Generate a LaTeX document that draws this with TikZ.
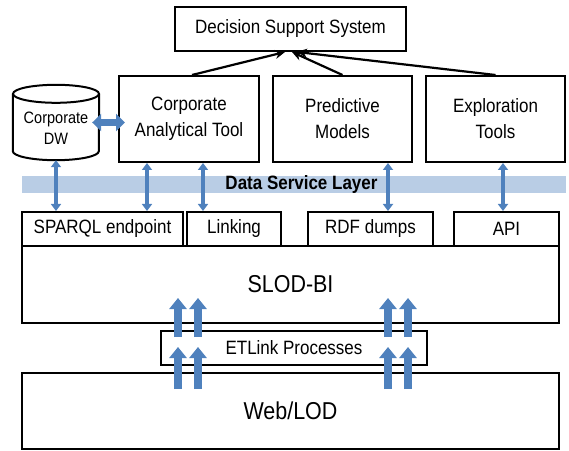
\documentclass[tikz,border=0pt]{standalone}
\usepackage{fontspec}
\setmainfont{Liberation Sans}[FakeStretch=0.88]
\usetikzlibrary{arrows.meta,calc}
\definecolor{arrblue}{HTML}{4F81BD}
\definecolor{bandblue}{HTML}{B9CDE5}

\begin{document}
\begin{tikzpicture}[x=1pt,y=1pt,
 	box/.style={draw=black,line width=2pt,inner sep=0pt,align=center,font=\fontsize{19.3}{26}\selectfont},
 	bigbox/.style={box,font=\fontsize{24.4}{28}\selectfont},
 	toarrow/.style={draw=black,line width=2.2pt,-{Stealth[length=10pt,width=9pt]}},
 	updown/.style={draw=arrblue,line width=4pt,{Triangle[length=7pt,width=10pt]}-{Triangle[length=7pt,width=10pt]}},
 	blockup/.style={draw=arrblue,line width=8pt,-{Triangle[length=11pt,width=17pt]}},
 	blockboth/.style={draw=arrblue,line width=7pt,{Triangle[length=9pt,width=17pt]}-{Triangle[length=9pt,width=17pt]}}]
 	\useasboundingbox (0,0) rectangle (569,450);
 	\node [fill=bandblue,minimum width=544,minimum height=17,inner sep=0pt] (dsl) at (294,265.5) {};
 	\node [font=\fontsize{19.3}{22}\selectfont\bfseries] (dsltext) at ([xshift=7.5]dsl.center) {Data Service Layer};
 	\node [box,minimum width=231,minimum height=44] (dss) at (290.5,421) {Decision Support System};
 	\node [box,minimum width=140,minimum height=86] (cat) at (189,331) {Corporate\\Analytical Tool};
 	\node [box,minimum width=139,minimum height=86] (pred) at (342.5,331) {Predictive\\Models};
 	\node [box,minimum width=139,minimum height=86] (expl) at (495.5,331) {Exploration\\Tools};
 	\node [minimum width=86,minimum height=75,inner sep=0pt] (dw) at (56,327.5) {};
 	\draw [black,line width=2pt] ($(dw.north west)+(0,-9)$) -- ($(dw.south west)+(0,9)$)
 		arc [start angle=180,end angle=360,x radius=43pt,y radius=9pt] -- ($(dw.north east)+(0,-9)$);
 	\draw [black,line width=2pt] ($(dw.north)+(0,-9)$) ellipse [x radius=43pt,y radius=9pt];
 	\node [align=center,inner sep=0pt,font=\fontsize{16.5}{21}\selectfont] (dwtext) at ([yshift=-5.5]dw.center) {Corporate\\DW};
 	\node [box,minimum width=161,minimum height=34] (sparql) at (102.5,221) {SPARQL endpoint};
 	\node [box,minimum width=94,minimum height=34] (linking) at (234,221) {Linking};
 	\node [box,minimum width=125,minimum height=34] (rdf) at (370.5,221) {RDF dumps};
 	\node [box,minimum width=105,minimum height=34] (api) at (506.5,221) {API};
 	\node [bigbox,minimum width=537,minimum height=77] (slod) at (290.5,165.5) {SLOD-BI};
 	\node [box,minimum width=266,minimum height=34] (etl) at (294,102) {ETLink Processes};
 	\node [bigbox,minimum width=537,minimum height=76] (web) at (290.5,39) {Web/LOD};
 	\draw [toarrow] ([xshift=3]cat.north) -- ([xshift=-5.5]dss.south);
 	\draw [toarrow] (pred.north) -- ([xshift=1.5]dss.south);
 	\draw [toarrow] (expl.north) -- ([xshift=6.5]dss.south);
 	\draw [blockboth] ($(dw.east)+(-7,0)$) -- ($(cat.west |- dw.east)+(7,0)$);
 	\draw [updown] (dw.south) -- (dw.south |- sparql.north);
 	\draw [updown] ($(cat.south)+(-42,0)$) -- ($(cat.south |- sparql.north)+(-42,0)$);
 	\draw [updown] ($(cat.south)+(14,0)$) -- ($(cat.south |- linking.north)+(14,0)$);
 	\draw [updown] ($(pred.south)+(45.5,0)$) -- ($(pred.south |- rdf.north)+(45.5,0)$);
 	\draw [updown] ($(expl.south)+(7.5,0)$) -- ($(expl.south |- api.north)+(7.5,0)$);
 	\foreach \dx in {-112.5,-92.5,97.5,117.5} {
 		\draw [blockup] ($(web.north)+(\dx,-17)$) -- ($(web.north |- etl.north)+(\dx,-17)$);
 		\draw [blockup] ($(web.north |- etl.north)+(\dx,-7)$) -- ($(web.north |- slod.south)+(\dx,26)$);
 	}
\end{tikzpicture}
\end{document}
